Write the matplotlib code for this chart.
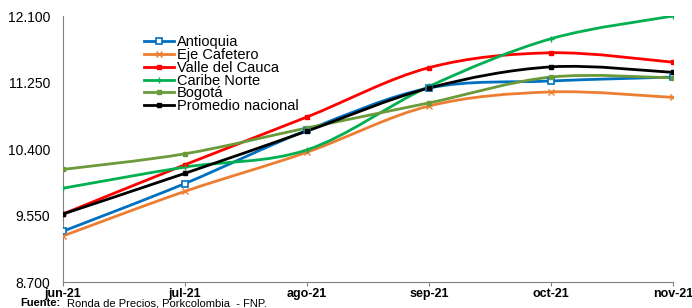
import numpy as np
import matplotlib.pyplot as plt
from matplotlib.path import Path
from matplotlib.patches import PathPatch
from matplotlib.lines import Line2D

plt.rcParams['font.family'] = ['Liberation Sans', 'DejaVu Sans']

meses = ['jun-21', 'jul-21', 'ago-21', 'sep-21', 'oct-21', 'nov-21']
antioquia = [9.35, 9.96, 10.64, 11.18, 11.27, 11.32]
eje_cafetero = [9.29, 9.86, 10.36, 10.95, 11.13, 11.06]
valle = [9.57, 10.20, 10.81, 11.44, 11.63, 11.51]
caribe = [9.90, 10.17, 10.39, 11.20, 11.81, 12.10]
bogota = [10.14, 10.34, 10.67, 10.99, 11.32, 11.31]
promedio = [9.57, 10.09, 10.63, 11.18, 11.45, 11.38]
yticks = [8.7, 9.55, 10.4, 11.25, 12.1]
ytick_labels = ['8.700', '9.550', '10.400', '11.250', '12.100']


def smooth_path(x, y):
    # curva suavizada tipo Excel (Bezier Catmull-Rom)
    pts = np.column_stack([x, y]).astype(float)
    n = len(pts)
    verts = [pts[0]]
    codes = [Path.MOVETO]
    for i in range(n - 1):
        p0 = pts[i - 1] if i > 0 else pts[i]
        p1 = pts[i]
        p2 = pts[i + 1]
        p3 = pts[i + 2] if i + 2 < n else pts[i + 1]
        c1 = p1 + (p2 - p0) / 6
        c2 = p2 - (p3 - p1) / 6
        verts += [c1, c2, p2]
        codes += [Path.CURVE4] * 3
    return Path(verts, codes)


series = [
    ('Antioquia', antioquia, '#0070C0', dict(marker='s', ms=5, mfc='white', mew=1.2)),
    ('Eje Cafetero', eje_cafetero, '#ED7D31', dict(marker='x', ms=4, mew=1.0)),
    ('Valle del Cauca', valle, '#FF0000', dict(marker='s', ms=3.5)),
    ('Caribe Norte', caribe, '#00B050', dict(marker='+', ms=4, mew=1.0)),
    ('Bogotá', bogota, '#6A9A3A', dict(marker='s', ms=2.5)),
    ('Promedio nacional', promedio, '#000000', dict(marker='s', ms=2.5)),
]

fig = plt.figure(figsize=(6.92, 3.08), dpi=100)
ax = fig.add_axes([0.091, 0.084, 0.8815, 0.864])
x = np.arange(len(meses))

handles = []
for nombre, vals, color, mk in series:
    ax.add_patch(PathPatch(smooth_path(x, vals), fill=False, edgecolor=color, lw=2.0, zorder=2))
    ax.plot(x, vals, linestyle='none', color=color, zorder=3, **mk)
    handles.append(Line2D([], [], color=color, lw=2.0, **mk))

ax.set_xlim(0, len(meses) - 1)
ax.set_ylim(8.7, 12.1)
ax.set_xticks(x)
ax.set_xticklabels(meses, fontsize=9, fontweight='bold')
ax.set_yticks(yticks)
ax.set_yticklabels(ytick_labels, fontsize=10)
ax.tick_params(axis='y', length=0, pad=9)
ax.tick_params(axis='x', length=3, color='#808080', direction='out', pad=1)
for s in ['top', 'right']:
    ax.spines[s].set_visible(False)
for s in ['left', 'bottom']:
    ax.spines[s].set_color('#808080')
for lbl in ax.get_xticklabels():
    lbl.set_clip_on(False)

ax.legend(handles, [s[0] for s in series], loc='upper left', bbox_to_anchor=(0.123, 0.95),
          frameon=False, fontsize=10.5, handlelength=2.1, handletextpad=0.15,
          labelspacing=-0.08, borderaxespad=0)

fig.text(0.029, 0.006, 'Fuente:', fontsize=8, fontweight='bold')
fig.text(0.097, 0.006, 'Ronda de Precios, Porkcolombia  - FNP.', fontsize=8)

fig.savefig('out.png', dpi=100)
